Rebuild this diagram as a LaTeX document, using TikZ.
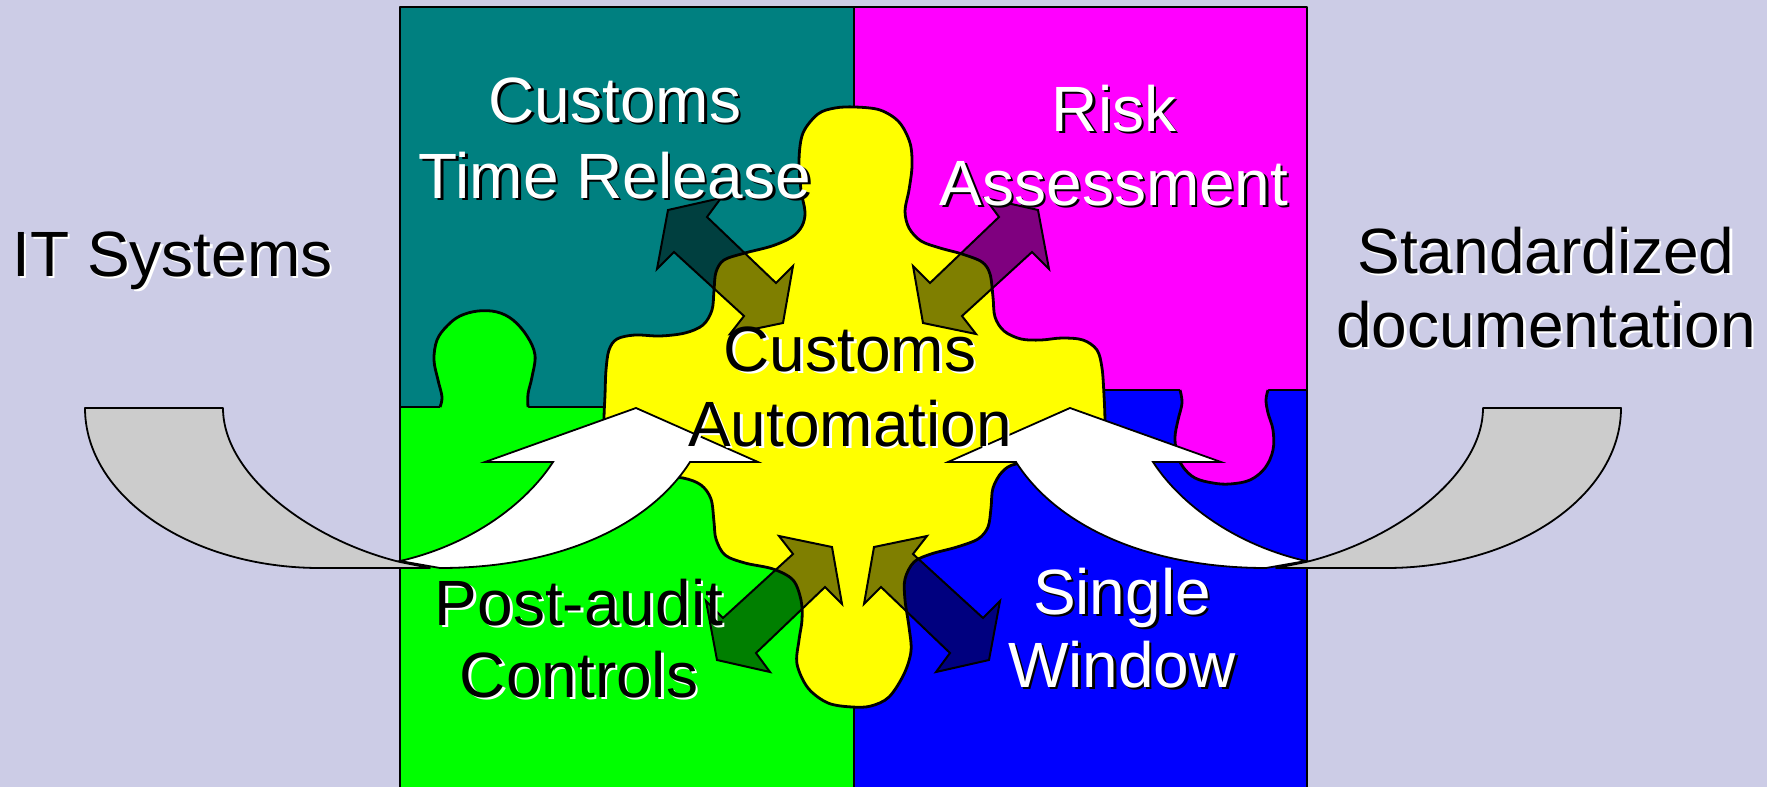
\documentclass[tikz,border=0pt]{standalone}
\usepackage{fontspec}
\setmainfont{Liberation Sans}
\definecolor{bgc}{RGB}{204,204,230}
\definecolor{tealc}{RGB}{0,128,128}
\definecolor{magc}{RGB}{255,0,255}
\definecolor{grnc}{RGB}{0,255,0}
\definecolor{bluc}{RGB}{0,0,255}
\definecolor{yelc}{RGB}{255,255,0}
\definecolor{grayc}{RGB}{204,204,204}
\tikzset{
 piece/.style={draw=black, line width=1.4pt, line join=round},
 darrow/.style={fill=black, fill opacity=0.5, draw=black, line width=1pt, line join=miter},
 backarrow/.style={fill=grayc, draw=black, line width=0.9pt, line join=round},
 frontarrow/.style={fill=white, draw=black, line width=0.9pt, line join=miter},
 lbl/.style={font=\fontsize{32}{38}\selectfont, inner sep=0pt, anchor=base},
}
\newcommand\shlab[7]{%
 \node[lbl, anchor=#4, text=#6] at (#2+2.5,#3+2.5) {#7};
 \node[lbl, anchor=#4, text=#5] (#1) at (#2,#3) {#7};}
\begin{document}
\begin{tikzpicture}[x=0.5pt,y=-0.5pt]
\useasboundingbox (0,0) rectangle (1767,787);
\fill[bgc] (0,0) rectangle (1767,787);
% quadrants
\fill[tealc] (400,7) rectangle (854,407);
\fill[magc] (854,7) rectangle (1307,390);
\fill[grnc] (400,407) rectangle (854,792);
\fill[bluc] (854,390) rectangle (1307,792);
\draw[piece] (400,407) -- (854,407);
\draw[piece] (854,390) -- (1307,390);
\draw[piece] (854,7) -- (854,792);
% green tab
\fill[grnc] plot[smooth, tension=0.6] coordinates {(440,407) (442,397) (438,380) (434,360) (437,340) (447,326) (460,316) (478,311) (497,312) (513,320) (527,336) (535,355) (532,377) (528,394) (528,407)} -- (528,411) -- (440,411) -- cycle;
\draw[piece] plot[smooth, tension=0.6] coordinates {(440,407) (442,397) (438,380) (434,360) (437,340) (447,326) (460,316) (478,311) (497,312) (513,320) (527,336) (535,355) (532,377) (528,394) (528,407)};
% magenta tab
\fill[magc] plot[smooth, tension=0.6] coordinates {(1180,390) (1182,403) (1178,420) (1175,437) (1177,453) (1183,467) (1195,478) (1213,483) (1230,484) (1250,480) (1265,468) (1273,450) (1273,430) (1268,413) (1266,400) (1268,390)} -- (1268,386) -- (1180,386) -- cycle;
\draw[piece] plot[smooth, tension=0.6] coordinates {(1180,390) (1182,403) (1178,420) (1175,437) (1177,453) (1183,467) (1195,478) (1213,483) (1230,484) (1250,480) (1265,468) (1273,450) (1273,430) (1268,413) (1266,400) (1268,390)};
% outer frame
\draw[piece] (400,792) -- (400,7) -- (1307,7) -- (1307,792);
% yellow centre piece
\filldraw[piece, fill=yelc] plot[smooth cycle, tension=0.55] coordinates {
 (855,107) (880,110) (899,122) (910,143) (912,166) (909,190) (905,211) (909,228)
 (921,241) (940,248) (962,254) (982,262) (990,274) (993,297) (995,317) (1004,331)
 (1021,339) (1041,340) (1062,338) (1083,340) (1097,350) (1102,368) (1104,395) (1105,420)
 (1105,445) (1085,462) (1045,465)
 (1016,464) (1002,472) (993,488) (991,508) (988,527) (978,539) (957,547) (931,554)
 (914,562) (905,579) (905,600) (909,627) (911,651) (904,674) (889,697) (871,706)
 (852,707) (828,703) (808,688) (797,664) (799,640) (802,620) (801,600) (793,580)
 (773,569) (745,563) (725,555) (716,539) (714,522) (711,499) (701,485) (683,478)
 (655,476) (625,472) (605,450)
 (604,420) (605,395) (606,370) (609,350) (617,339) (635,335) (660,336) (685,333)
 (703,325) (712,310) (714,290) (716,272) (724,260) (745,253) (772,246) (792,237)
 (802,226) (805,212) (801,190) (799,160) (803,133) (818,114) (835,108)};
% dark double arrows
\draw[darrow] (668,210) -- (721,198) -- (707,217) -- (776,283) -- (793,266) -- (783,323) -- (730,334) -- (744,316) -- (674,252) -- (657,269) -- cycle;
\draw[darrow] (1038,210) -- (985,198) -- (999,217) -- (930,283) -- (913,266) -- (923,323) -- (976,334) -- (962,316) -- (1032,252) -- (1049,269) -- cycle;
\draw[darrow] (717,660) -- (770,672) -- (756,653) -- (825,587) -- (842,604) -- (832,547) -- (779,536) -- (793,554) -- (723,618) -- (706,601) -- cycle;
\draw[darrow] (989,660) -- (936,672) -- (950,653) -- (881,587) -- (864,604) -- (874,547) -- (927,536) -- (913,554) -- (983,618) -- (1000,601) -- cycle;
% curved arrows, left
\draw[backarrow] (85,408) -- (223,408) .. controls (223,475) and (310,540) .. (400,562) -- (430,568) -- (320,568) .. controls (190,568) and (85,496) .. (85,408) -- cycle;
\draw[frontarrow] (400,561) .. controls (470,545) and (525,505) .. (553,462) -- (485,462) -- (636,408) -- (758,462) -- (690,462) .. controls (650,525) and (560,568) .. (440,568) -- cycle;
% curved arrows, right
\draw[backarrow] (1621,408) -- (1483,408) .. controls (1483,475) and (1396,540) .. (1306,562) -- (1276,568) -- (1386,568) .. controls (1516,568) and (1621,496) .. (1621,408) -- cycle;
\draw[frontarrow] (1306,561) .. controls (1236,545) and (1181,505) .. (1153,462) -- (1221,462) -- (1070,408) -- (948,462) -- (1016,462) .. controls (1056,525) and (1146,568) .. (1266,568) -- cycle;
% labels
\shlab{ctr1}{615}{122}{base}{white}{black}{Customs}
\shlab{ctr2}{615}{198}{base}{white}{black}{Time Release}
\shlab{ra1}{1114}{131}{base}{white}{black}{Risk}
\shlab{ra2}{1114}{205}{base}{white}{black}{Assessment}
\shlab{ca1}{850}{371}{base}{black}{white}{Customs}
\shlab{ca2}{850}{446}{base}{black}{white}{Automation}
\shlab{pa1}{579}{625}{base}{black}{white}{Post-audit}
\shlab{pa2}{579}{697}{base}{black}{white}{Controls}
\shlab{sw1}{1122}{614}{base}{white}{black}{Single}
\shlab{sw2}{1122}{687}{base}{white}{black}{Window}
\shlab{its}{12}{276}{base west}{black}{white}{IT Systems}
\shlab{sd1}{1546}{273}{base}{black}{white}{Standardized}
\shlab{sd2}{1546}{347}{base}{black}{white}{documentation}
\end{tikzpicture}
\end{document}
